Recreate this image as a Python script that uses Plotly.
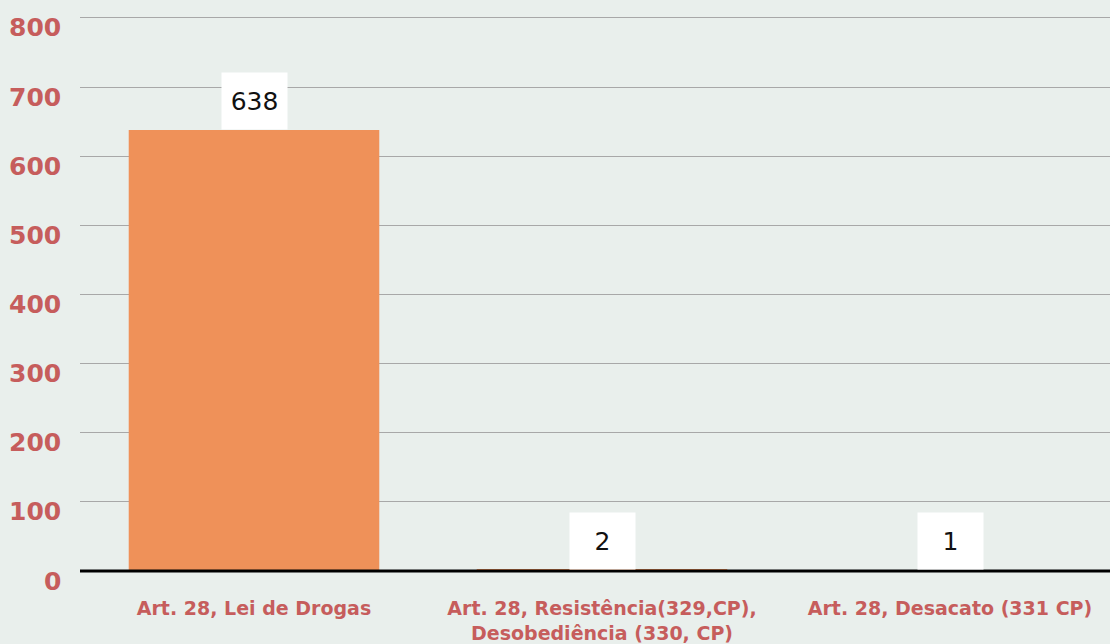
import plotly.graph_objects as go

categories = ["Art. 28, Lei de Drogas",
              "Art. 28, Resistência(329,CP),<br>Desobediência (330, CP)",
              "Art. 28, Desacato (331 CP)"]
values = [638, 2, 1]
tick_vals = [0, 100, 200, 300, 400, 500, 600, 700, 800]
tick_text = [str(v) for v in tick_vals]

RED = "#c65d5c"
BG = "#e9efec"
FONT = "DejaVu Sans"

fig = go.Figure(go.Bar(x=categories, y=values, marker_color="#ef9159",
                       marker_line_width=0, hoverinfo="skip"))

annotations = []
for c, v in zip(categories, values):
    annotations.append(dict(x=c, y=v, xref="x", yref="y", text=str(v),
                            showarrow=False, yanchor="bottom", yshift=0,
                            bgcolor="white", width=63, height=54,
                            font=dict(family=FONT, size=25, color="#111111")))
for t, s in zip(tick_vals, tick_text):
    annotations.append(dict(x=0, y=t, xref="paper", yref="y", text="<b>" + s + "</b>",
                            showarrow=False, xanchor="right", yanchor="middle",
                            xshift=-17, yshift=-10,
                            font=dict(family=FONT, size=25, color=RED)))

fig.update_layout(
    width=1124, height=644,
    margin=dict(l=80, r=0, t=11, b=73),
    paper_bgcolor=BG, plot_bgcolor=BG,
    bargap=0.28,
    showlegend=False,
    annotations=annotations,
    shapes=[dict(type="line", xref="paper", yref="paper", x0=0, x1=1, y0=0, y1=0,
                 line=dict(color="black", width=2.8), layer="above")],
    xaxis=dict(tickfont=dict(family=FONT, size=19, color=RED, weight="bold"),
               showgrid=False, ticks="", ticklabelstandoff=24, automargin=False,
               showline=False),
    yaxis=dict(range=[0, 810], tickvals=tick_vals, showticklabels=False,
               showgrid=True, gridcolor="#a8a8a8", gridwidth=1, automargin=False,
               zeroline=False, ticks=""),
)

fig.write_html("out.html", config={"displayModeBar": False},
               post_script="document.body.style.margin='0';document.body.style.overflow='hidden';"
                           "document.body.style.background='%s';" % BG)
